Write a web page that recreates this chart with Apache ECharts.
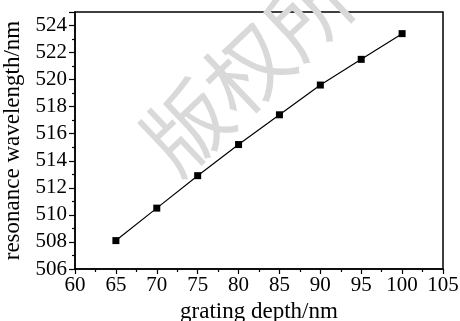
<!DOCTYPE html>
<html>
<head>
<meta charset="utf-8">
<script src="https://cdn.jsdelivr.net/npm/echarts@6/dist/echarts.min.js"></script>
<style>
  html, body { margin: 0; padding: 0; background: #fff; }
  #chart { width: 460px; height: 321px; }
</style>
</head>
<body>
<div id="chart"></div>
<script>
// grating depth (nm) vs resonance wavelength (nm)
const depths = [65, 70, 75, 80, 85, 90, 95, 100];
const wavelengths = [508.1, 510.5, 512.9, 515.2, 517.4, 519.6, 521.5, 523.4];

const xName = 'grating depth/nm';
const yName = 'resonance wavelength/nm';
const watermark = '版权所有';

const font = '"Liberation Serif", "Times New Roman", serif';

const chart = echarts.init(document.getElementById('chart'));

const option = {
    backgroundColor: '#fff',
    animation: false,
    grid: {
        left: 75,
        right: 17,
        top: 12,
        bottom: 52,
        outerBoundsMode: 'none',
        containLabel: false,
        show: true,
        borderColor: '#000',
        borderWidth: 1.5
    },
    xAxis: {
        type: 'value',
        min: 60,
        max: 105,
        interval: 5,
        name: xName,
        nameLocation: 'middle',
        nameGap: 22,
        nameTextStyle: { fontFamily: font, fontSize: 23, color: '#000' },
        axisLine: { lineStyle: { color: '#000', width: 1.5 } },
        axisTick: { show: true, length: 5, lineStyle: { color: '#000', width: 1.2 } },
        minorTick: { show: true, splitNumber: 2, length: 3, lineStyle: { color: '#000', width: 1.2 } },
        axisLabel: { fontFamily: font, fontSize: 21, color: '#000', margin: 6 },
        splitLine: { show: false }
    },
    yAxis: {
        type: 'value',
        min: 506,
        max: 525,
        interval: 2,
        name: yName,
        nameLocation: 'middle',
        nameGap: 44,
        nameTextStyle: { fontFamily: font, fontSize: 23, color: '#000' },
        axisLine: { show: true, lineStyle: { color: '#000', width: 1.5 } },
        axisTick: { show: true, length: 6, lineStyle: { color: '#000', width: 1.2 } },
        minorTick: { show: true, splitNumber: 2, length: 3, lineStyle: { color: '#000', width: 1.2 } },
        axisLabel: {
            fontFamily: font, fontSize: 21, color: '#000', margin: 8,
            formatter: v => (v % 2 === 0 ? String(v) : '')
        },
        splitLine: { show: false }
    },
    series: [
        {
            type: 'line',
            data: depths.map((d, i) => [d, wavelengths[i]]),
            symbol: 'rect',
            symbolSize: 7,
            itemStyle: { color: '#000' },
            lineStyle: { color: '#000', width: 1.2 }
        }
    ],
    graphic: [
        {
            type: 'text',
            x: 278,
            y: 40,
            rotation: 0.76,
            z: 100,
            style: {
                text: watermark,
                fontFamily: '"Noto Sans CJK SC", sans-serif',
                fontSize: 84,
                fill: '#d9d9d9',
                align: 'center',
                verticalAlign: 'middle'
            }
        }
    ]
};

chart.setOption(option);
</script>
</body>
</html>
